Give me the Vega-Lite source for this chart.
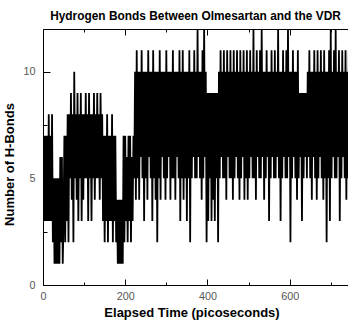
{
  "$schema": "https://vega.github.io/schema/vega-lite/v6.json",
  "autosize": "none",
  "width": 305,
  "height": 256,
  "padding": {"left": 43, "top": 29, "right": 0, "bottom": 35},
  "background": "white",
  "config": {
    "view": {"stroke": null},
    "font": "Liberation Sans",
    "axis": {"domainColor": "black", "tickColor": "black", "grid": false, "labelFont": "Liberation Sans", "titleFont": "Liberation Sans"}
  },
  "title": {"text": "Hydrogen Bonds Between Olmesartan and the VDR", "fontSize": 11.9, "fontWeight": "bold", "font": "Liberation Sans", "anchor": "middle", "offset": 6, "color": "black"},
  "data": {"values": [
    {"t":0,"h":3},{"t":2,"h":7},{"t":4,"h":3},{"t":6,"h":7},{"t":8,"h":3},{"t":10,"h":7},{"t":12,"h":3},{"t":14,"h":8},{"t":16,"h":3},{"t":18,"h":7},{"t":20,"h":3},{"t":22,"h":8},{"t":24,"h":2},
    {"t":26,"h":5},{"t":28,"h":1},{"t":30,"h":5},{"t":32,"h":1},{"t":34,"h":5},{"t":36,"h":1},{"t":38,"h":5},{"t":40,"h":1},{"t":42,"h":6},{"t":44,"h":2},{"t":46,"h":6},{"t":48,"h":1},
    {"t":50,"h":3},{"t":52,"h":7},{"t":54,"h":2},{"t":56,"h":7},{"t":58,"h":3},{"t":60,"h":8},{"t":62,"h":2},{"t":64,"h":8},{"t":66,"h":5},{"t":68,"h":9},{"t":70,"h":4},{"t":72,"h":8},{"t":74,"h":2},{"t":76,"h":10},{"t":78,"h":5},{"t":80,"h":8},{"t":82,"h":4},{"t":84,"h":9},{"t":86,"h":3},{"t":88,"h":8},{"t":90,"h":5},{"t":92,"h":9},{"t":94,"h":3},{"t":96,"h":8},{"t":98,"h":4},{"t":100,"h":8},{"t":102,"h":5},{"t":104,"h":9},{"t":106,"h":5},{"t":108,"h":8},{"t":110,"h":3},{"t":112,"h":9},{"t":114,"h":5},{"t":116,"h":8},{"t":118,"h":3},{"t":120,"h":8},{"t":122,"h":5},{"t":124,"h":9},{"t":126,"h":4},{"t":128,"h":8},{"t":130,"h":5},{"t":132,"h":9},{"t":134,"h":5},{"t":136,"h":8},{"t":138,"h":4},{"t":140,"h":9},{"t":142,"h":5},{"t":144,"h":8},
    {"t":146,"h":3},{"t":148,"h":7},{"t":150,"h":2},{"t":152,"h":7},{"t":154,"h":3},{"t":156,"h":8},{"t":158,"h":2},{"t":160,"h":7},{"t":162,"h":3},{"t":164,"h":7},{"t":166,"h":3},{"t":168,"h":8},{"t":170,"h":2},{"t":172,"h":7},{"t":174,"h":3},{"t":176,"h":7},
    {"t":178,"h":2},{"t":180,"h":4},{"t":182,"h":1},{"t":184,"h":4},{"t":186,"h":1},{"t":188,"h":4},{"t":190,"h":1},{"t":192,"h":4},{"t":194,"h":1},{"t":196,"h":7},
    {"t":198,"h":2},{"t":200,"h":7},{"t":202,"h":3},{"t":204,"h":6},{"t":206,"h":2},{"t":208,"h":7},{"t":210,"h":3},{"t":212,"h":7},{"t":214,"h":2},{"t":216,"h":6},{"t":218,"h":3},{"t":220,"h":7},
    {"t":222,"h":5},{"t":224,"h":10},{"t":226,"h":4},{"t":228,"h":11},{"t":230,"h":5},{"t":232,"h":10},{"t":234,"h":4},{"t":236,"h":10},{"t":238,"h":6},{"t":240,"h":11},{"t":242,"h":5},{"t":244,"h":10},{"t":246,"h":3},{"t":248,"h":10},{"t":250,"h":5},{"t":252,"h":10},{"t":254,"h":4},{"t":256,"h":11},{"t":258,"h":6},{"t":260,"h":10},{"t":262,"h":5},{"t":264,"h":10},{"t":266,"h":3},{"t":268,"h":11},{"t":270,"h":5},{"t":272,"h":10},{"t":274,"h":4},{"t":276,"h":10},{"t":278,"h":2},{"t":280,"h":10},{"t":282,"h":5},{"t":284,"h":11},{"t":286,"h":4},{"t":288,"h":10},{"t":290,"h":6},{"t":292,"h":10},{"t":294,"h":5},{"t":296,"h":10},{"t":298,"h":4},{"t":300,"h":11},{"t":302,"h":5},{"t":304,"h":10},{"t":306,"h":6},{"t":308,"h":10},{"t":310,"h":4},{"t":312,"h":10},{"t":314,"h":5},{"t":316,"h":11},{"t":318,"h":5},{"t":320,"h":10},{"t":322,"h":4},{"t":324,"h":10},{"t":326,"h":6},{"t":328,"h":10},{"t":330,"h":5},{"t":332,"h":11},{"t":334,"h":3},{"t":336,"h":10},{"t":338,"h":5},{"t":340,"h":11},
    {"t":342,"h":4},{"t":344,"h":10},{"t":346,"h":5},{"t":348,"h":10},{"t":350,"h":3},{"t":352,"h":10},{"t":354,"h":5},{"t":356,"h":11},{"t":358,"h":2},{"t":360,"h":10},
    {"t":362,"h":5},{"t":364,"h":10},{"t":366,"h":6},{"t":368,"h":11},{"t":370,"h":5},{"t":372,"h":10},{"t":374,"h":5},{"t":376,"h":12},{"t":378,"h":6},{"t":380,"h":10},
    {"t":382,"h":5},{"t":384,"h":10},{"t":386,"h":4},{"t":388,"h":11},{"t":390,"h":5},{"t":392,"h":12},{"t":394,"h":6},{"t":396,"h":10},{"t":398,"h":2},{"t":400,"h":9},
    {"t":402,"h":3},{"t":404,"h":9},{"t":406,"h":5},{"t":408,"h":9},{"t":410,"h":3},{"t":412,"h":9},{"t":414,"h":4},{"t":416,"h":9},{"t":418,"h":3},{"t":420,"h":9},
    {"t":422,"h":5},{"t":424,"h":9},{"t":426,"h":2},{"t":428,"h":10},{"t":430,"h":5},{"t":432,"h":11},{"t":434,"h":6},{"t":436,"h":10},{"t":438,"h":5},{"t":440,"h":11},
    {"t":442,"h":5},{"t":444,"h":10},{"t":446,"h":4},{"t":448,"h":11},{"t":450,"h":6},{"t":452,"h":10},{"t":454,"h":5},{"t":456,"h":11},{"t":458,"h":5},{"t":460,"h":10},
    {"t":462,"h":4},{"t":464,"h":11},{"t":466,"h":5},{"t":468,"h":10},{"t":470,"h":6},{"t":472,"h":11},{"t":474,"h":5},{"t":476,"h":10},{"t":478,"h":4},{"t":480,"h":11},
    {"t":482,"h":5},{"t":484,"h":10},{"t":486,"h":6},{"t":488,"h":11},{"t":490,"h":4},{"t":492,"h":10},{"t":494,"h":5},{"t":496,"h":11},{"t":498,"h":4},{"t":500,"h":10},
    {"t":502,"h":5},{"t":504,"h":11},{"t":506,"h":6},{"t":508,"h":10},{"t":510,"h":5},{"t":512,"h":12},{"t":514,"h":5},{"t":516,"h":10},{"t":518,"h":4},{"t":520,"h":11},
    {"t":522,"h":6},{"t":524,"h":10},{"t":526,"h":5},{"t":528,"h":11},{"t":530,"h":5},{"t":532,"h":12},{"t":534,"h":6},{"t":536,"h":10},{"t":538,"h":4},{"t":540,"h":10},
    {"t":542,"h":5},{"t":544,"h":11},{"t":546,"h":6},{"t":548,"h":10},{"t":550,"h":3},{"t":552,"h":10},{"t":554,"h":5},{"t":556,"h":11},{"t":558,"h":6},{"t":560,"h":10},
    {"t":562,"h":5},{"t":564,"h":11},{"t":566,"h":5},{"t":568,"h":10},{"t":570,"h":6},{"t":572,"h":12},{"t":574,"h":5},{"t":576,"h":10},{"t":578,"h":3},{"t":580,"h":10},
    {"t":582,"h":5},{"t":584,"h":11},{"t":586,"h":6},{"t":588,"h":10},{"t":590,"h":5},{"t":592,"h":11},{"t":594,"h":5},{"t":596,"h":12},{"t":598,"h":6},{"t":600,"h":10},
    {"t":602,"h":2},{"t":604,"h":10},{"t":606,"h":5},{"t":608,"h":11},{"t":610,"h":6},{"t":612,"h":10},{"t":614,"h":5},{"t":616,"h":10},{"t":618,"h":4},{"t":620,"h":11},
    {"t":622,"h":5},{"t":624,"h":9},{"t":626,"h":6},{"t":628,"h":9},{"t":630,"h":3},{"t":632,"h":9},{"t":634,"h":5},{"t":636,"h":9},{"t":638,"h":6},{"t":640,"h":9},
    {"t":642,"h":5},{"t":644,"h":10},{"t":646,"h":6},{"t":648,"h":11},{"t":650,"h":5},{"t":652,"h":10},{"t":654,"h":4},{"t":656,"h":10},{"t":658,"h":6},{"t":660,"h":11},
    {"t":662,"h":5},{"t":664,"h":10},{"t":666,"h":4},{"t":668,"h":11},{"t":670,"h":5},{"t":672,"h":10},{"t":674,"h":6},{"t":676,"h":11},{"t":678,"h":5},{"t":680,"h":10},
    {"t":682,"h":4},{"t":684,"h":11},{"t":686,"h":5},{"t":688,"h":10},{"t":690,"h":2},{"t":692,"h":10},{"t":694,"h":5},{"t":696,"h":11},{"t":698,"h":3},{"t":700,"h":12},
    {"t":702,"h":5},{"t":704,"h":10},{"t":706,"h":6},{"t":708,"h":11},{"t":710,"h":5},{"t":712,"h":12},{"t":714,"h":5},{"t":716,"h":10},{"t":718,"h":6},{"t":720,"h":11},
    {"t":722,"h":3},{"t":724,"h":10},{"t":726,"h":5},{"t":728,"h":11},{"t":730,"h":6},{"t":732,"h":10},{"t":734,"h":5},{"t":736,"h":11},{"t":738,"h":4},{"t":740,"h":10},{"t":742,"h":5},{"t":744,"h":11}
  ]},
  "layer": [
    {
      "mark": {"type": "line", "color": "black", "strokeWidth": 1.8, "strokeJoin": "bevel", "clip": true},
      "encoding": {
        "x": {"field": "t", "type": "quantitative", "scale": {"domain": [0, 742], "nice": false, "zero": false},
          "axis": {"orient": "bottom", "values": [0,100,200,300,400,500,600,700], "labelExpr": "datum.value % 200 === 0 ? datum.label : ''",
            "tickSize": {"condition": {"test": "datum.value % 200 === 0", "value": -6}, "value": -3},
            "labelPadding": 11, "labelFontSize": 10.8, "labelColor": "#555", "title": "Elapsed Time (picoseconds)", "titleFontSize": 13, "titleFontWeight": "bold", "titleColor": "black", "titlePadding": 3, "titleX": 148.5, "labelFlush": false, "labelOverlap": false}},
        "y": {"field": "h", "type": "quantitative", "scale": {"domain": [0, 12], "nice": false},
          "axis": {"orient": "left", "values": [0,2.5,5,7.5,10], "labelExpr": "datum.value % 5 === 0 ? datum.label : ''",
            "tickSize": {"condition": {"test": "datum.value % 5 === 0", "value": -7}, "value": -4},
            "labelPadding": 15, "labelFontSize": 10.8, "labelColor": "#555", "title": "Number of H-Bonds", "titleFontSize": 13, "titleFontWeight": "bold", "titleColor": "black", "titlePadding": 6, "titleY": 135, "labelOverlap": false}}
      }
    },
    {
      "mark": {"type": "line", "opacity": 0},
      "encoding": {
        "x": {"field": "t", "type": "quantitative", "scale": {"domain": [0, 742], "nice": false, "zero": false},
          "axis": {"orient": "top", "values": [0,100,200,300,400,500,600,700], "labels": false, "title": null,
            "tickSize": {"condition": {"test": "datum.value % 200 === 0", "value": -6}, "value": -3}}},
        "y": {"field": "h", "type": "quantitative"}
      }
    }
  ],
  "resolve": {"axis": {"x": "independent"}}
}
